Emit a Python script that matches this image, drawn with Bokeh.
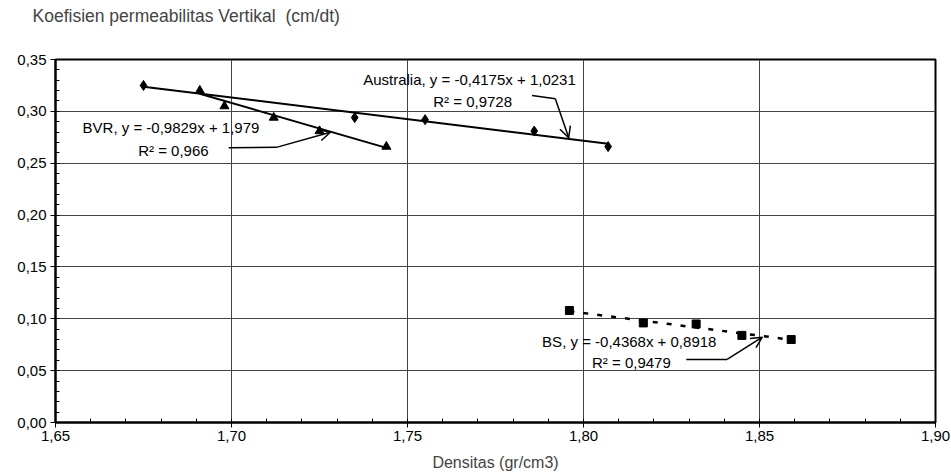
from bokeh.plotting import figure
from bokeh.models import Range1d, FixedTicker, Label, Arrow, OpenHead, Title
from bokeh.embed import file_html
from bokeh.resources import INLINE

# ---- data ----
aus_x = [1.675, 1.735, 1.755, 1.786, 1.807]
aus_y = [0.325, 0.294, 0.292, 0.281, 0.266]
aus_coef = [-0.4175, 1.0231]

bvr_x = [1.691, 1.698, 1.712, 1.725, 1.744]
bvr_y = [0.320, 0.305, 0.294, 0.281, 0.266]
bvr_coef = [-0.9829, 1.979]

bs_x = [1.796, 1.817, 1.832, 1.845, 1.859]
bs_y = [0.108, 0.096, 0.095, 0.084, 0.080]
bs_coef = [-0.4368, 0.8918]

x_ticks = [1.65, 1.70, 1.75, 1.80, 1.85, 1.90]
x_tick_labels = ["1,65", "1,70", "1,75", "1,80", "1,85", "1,90"]
y_ticks = [0.00, 0.05, 0.10, 0.15, 0.20, 0.25, 0.30, 0.35]
y_tick_labels = ["0,00", "0,05", "0,10", "0,15", "0,20", "0,25", "0,30", "0,35"]
x_minor = [round(1.65 + 0.01 * i, 2) for i in range(26)]
y_minor = [round(0.01 * i, 2) for i in range(36)]

TITLE = "Koefisien permeabilitas Vertikal \u00a0(cm/dt)"
FONT = "Liberation Sans"

p = figure(width=951, height=475, frame_width=880, frame_height=363,
           min_border_left=55, min_border_right=16, min_border_top=59, min_border_bottom=53,
           x_range=Range1d(1.65, 1.90), y_range=Range1d(0, 0.35),
           output_backend="svg", toolbar_location=None, title=TITLE)

# real title (outermost panel)
p.title.text_font = FONT
p.title.text_font_size = "17.5px"
p.title.text_font_style = "normal"
p.title.align = "left"
p.title.vertical_align = "top"
p.title.offset = -23
p.title.standoff = 9

# invisible spacer between title and frame
p.add_layout(Title(text=" ", text_font_size="2px", standoff=23), "above")

p.outline_line_color = "black"
p.outline_line_width = 2
p.background_fill_color = "white"
p.border_fill_color = "white"

p.xaxis.ticker = FixedTicker(ticks=x_ticks, minor_ticks=x_minor)
p.yaxis.ticker = FixedTicker(ticks=y_ticks, minor_ticks=y_minor)
p.xaxis.major_label_overrides = dict(zip(x_ticks, x_tick_labels))
p.yaxis.major_label_overrides = dict(zip(y_ticks, y_tick_labels))

for ax in (p.xaxis, p.yaxis):
    ax.axis_line_color = "black"
    ax.axis_line_width = 2
    ax.major_tick_in = 0
    ax.major_tick_out = 5
    ax.minor_tick_in = 4
    ax.minor_tick_out = 0
    ax.major_tick_line_color = "black"
    ax.minor_tick_line_color = "black"
    ax.major_label_text_font = FONT
    ax.major_label_text_font_size = "15px"
    ax.major_label_text_color = "black"
    ax.axis_label_text_font = FONT
    ax.axis_label_text_font_style = "normal"
    ax.axis_label_text_font_size = "16px"

p.xaxis.axis_label = "Densitas (gr/cm3)"
p.xaxis.major_label_standoff = 3
p.xaxis.axis_label_standoff = 10
p.yaxis.major_label_standoff = 4

p.grid.grid_line_color = "#444444"
p.grid.grid_line_width = 1

# trend lines
def trend(xs, coef):
    x0, x1 = min(xs), max(xs)
    return [x0, x1], [coef[0] * x0 + coef[1], coef[0] * x1 + coef[1]]

tx, ty = trend(aus_x, aus_coef)
p.line(tx, ty, line_color="black", line_width=2)
tx, ty = trend(bvr_x, bvr_coef)
p.line(tx, ty, line_color="black", line_width=2)
tx, ty = trend(bs_x, bs_coef)
p.line(tx, ty, line_color="black", line_width=2.5, line_dash="5 9")

# markers
p.scatter(aus_x, aus_y, marker="diamond", size=10, color="black")
p.scatter(bvr_x, bvr_y, marker="triangle", size=9, color="black")
p.scatter(bs_x, bs_y, marker="square", size=8, color="black")

# annotations
def lbl(x, y, t):
    p.add_layout(Label(x=x, y=y, text=t, text_font=FONT, text_font_size="15px",
                       text_align="center", text_baseline="middle", text_color="black"))

lbl(1.7676, 0.3308, "Australia, y = -0,4175x + 1,0231")
lbl(1.7685, 0.3095, "R² = 0,9728")
lbl(1.6828, 0.2842, "BVR, y = -0,9829x + 1,979")
lbl(1.6835, 0.2623, "R² = 0,966")
lbl(1.8130, 0.0784, "BS, y = -0,4368x + 0,8918")
lbl(1.8136, 0.0581, "R² = 0,9479")

callouts = [
    ([1.7854, 1.7920], [0.3153, 0.3121], (1.7958, 0.2745)),
    ([1.6992, 1.7130], [0.2649, 0.2655], (1.7281, 0.2799)),
    ([1.8292, 1.8408], [0.0608, 0.0608], (1.8508, 0.0823)),
]
for cx, cy, end in callouts:
    p.line(cx, cy, line_color="black", line_width=1.5)
    p.add_layout(Arrow(end=OpenHead(size=11, line_width=1.5, line_color="black"),
                       x_start=cx[-1], y_start=cy[-1], x_end=end[0], y_end=end[1],
                       line_color="black", line_width=1.5))

open("out.html", "w").write(file_html(p, INLINE))
